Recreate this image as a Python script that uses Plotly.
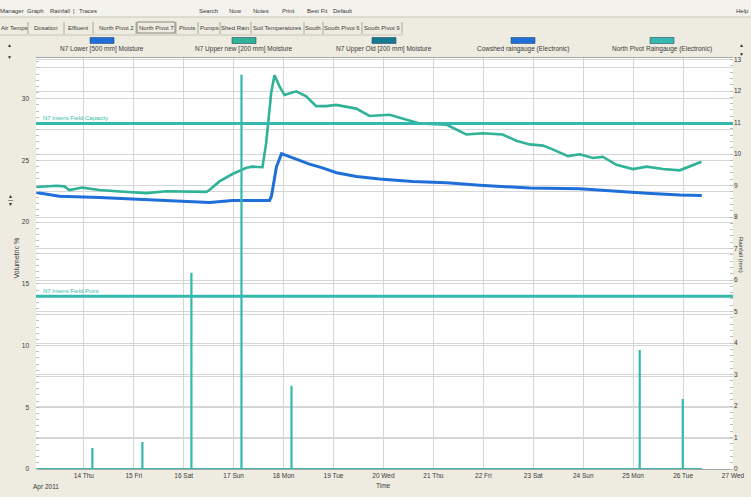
import plotly.graph_objects as go

# ---------------- data ----------------
lower_times = ["2011-04-13 01:10", "2011-04-13 12:13", "2011-04-14 07:28", "2011-04-15 07:30",
               "2011-04-16 07:33", "2011-04-16 12:22", "2011-04-16 23:25", "2011-04-17 16:15",
               "2011-04-17 17:13", "2011-04-17 18:10", "2011-04-17 20:35", "2011-04-17 23:00",
               "2011-04-18 06:13", "2011-04-18 12:27", "2011-04-18 18:43", "2011-04-19 01:26",
               "2011-04-19 11:03", "2011-04-19 22:08", "2011-04-20 14:00", "2011-04-21 06:21",
               "2011-04-21 22:13", "2011-04-22 22:16", "2011-04-23 22:19", "2011-04-24 14:11",
               "2011-04-25 06:33", "2011-04-25 22:25", "2011-04-26 09:00"]
lower_vals = [22.4, 22.1, 22.0, 21.8, 21.65, 21.6, 21.75, 21.75, 21.75, 22.1, 24.5, 25.55,
              25.06, 24.7, 24.4, 24.0, 23.7, 23.5, 23.3, 23.2, 23.0, 22.76, 22.7, 22.5, 22.35,
              22.2, 22.15]

upper_times = ["2011-04-13 01:10", "2011-04-13 05:00", "2011-04-13 10:47", "2011-04-13 14:37",
               "2011-04-13 17:01", "2011-04-13 23:17", "2011-04-14 07:28", "2011-04-14 15:38",
               "2011-04-15 06:04", "2011-04-15 15:41", "2011-04-16 01:18", "2011-04-16 10:55",
               "2011-04-16 12:22", "2011-04-16 17:10", "2011-04-16 23:25", "2011-04-17 06:10",
               "2011-04-17 09:03", "2011-04-17 13:51", "2011-04-17 15:38", "2011-04-17 18:03",
               "2011-04-17 19:38", "2011-04-17 22:02", "2011-04-18 00:26", "2011-04-18 06:04",
               "2011-04-18 10:52", "2011-04-18 15:40", "2011-04-18 20:29", "2011-04-19 01:18",
               "2011-04-19 10:55", "2011-04-19 17:19", "2011-04-20 02:56", "2011-04-20 09:20",
               "2011-04-20 17:21", "2011-04-21 06:13", "2011-04-21 15:49", "2011-04-21 23:40",
               "2011-04-22 09:17", "2011-04-22 15:52", "2011-04-22 22:16", "2011-04-23 04:40",
               "2011-04-23 09:20", "2011-04-23 16:41", "2011-04-23 22:19", "2011-04-24 04:42",
               "2011-04-24 09:23", "2011-04-24 15:58", "2011-04-24 23:57", "2011-04-25 06:24",
               "2011-04-25 14:23", "2011-04-25 22:25", "2011-04-26 03:13", "2011-04-26 08:51"]
upper_vals = [22.85, 22.9, 22.95, 22.9, 22.6, 22.8, 22.6, 22.5, 22.35, 22.5, 22.5, 22.45,
              22.6, 23.3, 23.9, 24.4, 24.5, 24.45, 26.4, 30.5, 31.9, 31.0, 30.3, 30.6, 30.2,
              29.4, 29.4, 29.5, 29.2, 28.6, 28.7, 28.4, 28.0, 27.9, 27.1, 27.2, 27.1, 26.6,
              26.3, 26.2, 25.9, 25.35, 25.5, 25.2, 25.3, 24.65, 24.3, 24.5, 24.3, 24.2, 24.5,
              24.9]

rain_times = ["2011-04-14 04:05", "2011-04-15 04:08", "2011-04-16 03:42", "2011-04-17 03:45",
              "2011-04-18 03:48", "2011-04-25 03:10", "2011-04-25 23:51"]
rain_mm = [0.67, 0.86, 6.23, 12.52, 2.64, 3.78, 2.22]
rain_start = "2011-04-13 01:10"
rain_end = "2011-04-26 09:00"

threshold_names = ["N7 Intens Field Capacity", "N7 Intens Field Point"]
threshold_vals = [28, 14]

day_ticks = ["2011-04-%02d" % d for d in range(14, 28)]
day_labels = ["14 Thu", "15 Fri", "16 Sat", "17 Sun", "18 Mon", "19 Tue", "20 Wed",
              "21 Thu", "22 Fri", "23 Sat", "24 Sun", "25 Mon", "26 Tue", "27 Wed"]

left_ticks = [0, 2.5, 5, 7.5, 10, 12.5, 15, 17.5, 20, 22.5, 25, 27.5, 30, 32.5]
left_labels = ["0", "", "5", "", "10", "", "15", "", "20", "", "25", "", "30", ""]
right_ticks = list(range(0, 14))

legend_names = ["N7 Lower [500 mm] Moisture", "N7 Upper new [200 mm] Moisture",
                "N7 Upper Old [200 mm] Moisture", "Cowshed raingauge (Electronic)",
                "North Pivot Raingauge (Electronic)"]

menu_items = ["Manager", "Graph", "Rainfall", "|", "Traces", "Search", "Now", "Notes",
              "Print", "Best Fit", "Default", "Help"]
tab_items = ["Air Temps", "Dosation", "Effluent", "North Pivot 2", "North Pivot 7", "Pivots",
             "Pumps", "Shed Rain", "Soil Temperatures", "South", "South Pivot 6", "South Pivot 9"]

# ---------------- styles ----------------
BLUE = "#1f6fd8"
TEAL = "#2fb296"
CYAN = "#35b9ae"
DTEAL = "#17798f"
GRID = "#d6d6d6"
TXT = "#3a3a3a"
BG = "#eeebe0"
FONT = "Liberation Sans"

W, H = 751, 504
L, R, T, B = 36, 18, 58, 35
PW, PH = W - L - R, H - T - B


def px(x):
    return (x - L) / PW


def py(y):
    return (H - B - y) / PH


fig = go.Figure()

# rain gauge (spikes with zero baseline) built from the rain arrays
rx, ry = [rain_start], [0]
for t, v in zip(rain_times, rain_mm):
    rx += [t, t, t]
    ry += [0, v, 0]
rx.append(rain_end)
ry.append(0)
fig.add_trace(go.Scatter(x=rx, y=ry, yaxis="y2", mode="lines",
                         line=dict(color=CYAN, width=2.2), name=legend_names[4],
                         showlegend=False, hoverinfo="skip"))

fig.add_trace(go.Scatter(x=upper_times, y=upper_vals, mode="lines",
                         line=dict(color=TEAL, width=2.6), name=legend_names[1],
                         showlegend=False))
fig.add_trace(go.Scatter(x=lower_times, y=lower_vals, mode="lines",
                         line=dict(color=BLUE, width=3), name=legend_names[0],
                         showlegend=False))

shapes = []
annotations = []

# threshold lines
for name, val in zip(threshold_names, threshold_vals):
    shapes.append(dict(type="line", xref="paper", x0=0, x1=1, yref="y", y0=val, y1=val,
                       line=dict(color=CYAN, width=3), layer="above"))
    annotations.append(dict(xref="paper", yref="y", x=px(41), y=val, yshift=0,
                            text=name, showarrow=False, xanchor="left", yanchor="bottom",
                            font=dict(family=FONT, size=6, color=CYAN)))

# custom legend (swatch above text)
leg_x = [102, 244, 384, 523, 662]
sw_col = [BLUE, TEAL, DTEAL, BLUE, CYAN]
for name, cx, col in zip(legend_names, leg_x, sw_col):
    shapes.append(dict(type="rect", xref="paper", yref="paper",
                       x0=px(cx - 12), x1=px(cx + 12), y0=py(43.5), y1=py(37.5),
                       fillcolor=col, line=dict(color="#2a4a70", width=0.6), layer="above"))
    annotations.append(dict(xref="paper", yref="paper", x=px(cx), y=py(49.5), text=name,
                            showarrow=False, xanchor="center", yanchor="middle",
                            font=dict(family=FONT, size=6.5, color=TXT)))

# menu bar
shapes.append(dict(type="rect", xref="paper", yref="paper", x0=px(0), x1=px(W),
                   y0=py(17), y1=py(0), fillcolor="#f3f2ed", line=dict(width=0), layer="below"))
shapes.append(dict(type="line", xref="paper", yref="paper", x0=px(0), x1=px(W),
                   y0=py(17), y1=py(17), line=dict(color="#c9c6b8", width=1)))
menu_x = [12, 35, 60, 74, 88, 208, 235, 261, 288, 317, 342, 742]
for m, mx in zip(menu_items, menu_x):
    annotations.append(dict(xref="paper", yref="paper", x=px(mx), y=py(11), text=m,
                            showarrow=False, xanchor="center", yanchor="middle",
                            font=dict(family=FONT, size=6, color=TXT)))

# tab row
tab_x = [14, 46, 78, 116, 156, 187, 209, 235, 277, 313, 342, 382]
tab_edges = [28, 64, 93, 136, 176, 198, 220, 251, 304, 323, 362, 402]
for tb, tx in zip(tab_items, tab_x):
    annotations.append(dict(xref="paper", yref="paper", x=px(tx), y=py(28), text=tb,
                            showarrow=False, xanchor="center", yanchor="middle",
                            font=dict(family=FONT, size=6, color=TXT)))
for e in tab_edges:
    shapes.append(dict(type="line", xref="paper", yref="paper", x0=px(e), x1=px(e),
                       y0=py(34), y1=py(22), line=dict(color="#9a988c", width=0.8)))
shapes.append(dict(type="rect", xref="paper", yref="paper", x0=px(137), x1=px(175),
                   y0=py(33), y1=py(22), line=dict(color="#6f6d63", width=0.8)))
shapes.append(dict(type="line", xref="paper", yref="paper", x0=px(0), x1=px(403),
                   y0=py(35), y1=py(35), line=dict(color="#c9c6b8", width=1)))

# bottom status strip
shapes.append(dict(type="rect", xref="paper", yref="paper", x0=px(0), x1=px(W),
                   y0=py(H), y1=py(497), fillcolor="#ffffff", line=dict(width=0)))

# small side controls
for txt, x, y in [("▲", 5, 40), ("▼", 5, 52), ("▲", 746, 40), ("▼", 746, 49)]:
    annotations.append(dict(xref="paper", yref="paper", x=px(x), y=py(y), text=txt,
                            showarrow=False, font=dict(family=FONT, size=5, color="#333")))
annotations.append(dict(xref="paper", yref="paper", x=px(5), y=py(200), text="◂ | ▸",
                        textangle=-90, showarrow=False,
                        font=dict(family=FONT, size=6, color="#333")))

# axis titles and date label
annotations.append(dict(xref="paper", yref="paper", x=px(10), y=py(258), text="Volumetric %",
                        textangle=-90, showarrow=False,
                        font=dict(family=FONT, size=7, color=TXT)))
annotations.append(dict(xref="paper", yref="paper", x=px(746), y=py(255), text="Rainfall (mm)",
                        textangle=90, showarrow=False,
                        font=dict(family=FONT, size=6, color=TXT)))
annotations.append(dict(xref="paper", yref="paper", x=px(383), y=py(491), text="Time",
                        showarrow=False, font=dict(family=FONT, size=6.5, color=TXT)))
annotations.append(dict(xref="paper", yref="paper", x=px(31), y=py(493), text="Apr 2011",
                        showarrow=False, font=dict(family=FONT, size=6.5, color=TXT)))

fig.update_layout(
    width=W, height=H,
    margin=dict(l=L, r=R, t=T, b=B, pad=0, autoexpand=False),
    paper_bgcolor=BG, plot_bgcolor="#ffffff",
    showlegend=False,
    font=dict(family=FONT, size=7, color=TXT),
    xaxis=dict(type="date", range=["2011-04-13 01:00", "2011-04-27 00:00"],
               tickmode="array", tickvals=day_ticks, ticktext=day_labels,
               showgrid=True, gridcolor=GRID, gridwidth=1, ticks="",
               tickfont=dict(size=6.5, color=TXT), zeroline=False, automargin=False,
               showline=True, linecolor="#a8a8a8", mirror=True),
    yaxis=dict(range=[0, 33.3], tickmode="array", tickvals=left_ticks, ticktext=left_labels,
               showgrid=True, gridcolor=GRID, gridwidth=1, ticks="", zeroline=False,
               automargin=False, tickfont=dict(size=6.5, color=TXT), ticklabelstandoff=6,
               minor=dict(ticks="inside", ticklen=3, dtick=0.5, tickcolor="#bdbdbd",
                          showgrid=False)),
    yaxis2=dict(range=[0, 13.05], overlaying="y", side="right", tickmode="array",
                tickvals=right_ticks, showgrid=True, gridcolor=GRID, gridwidth=1,
                ticks="", zeroline=False, automargin=False, tickfont=dict(size=6.5, color=TXT),
                minor=dict(ticks="inside", ticklen=3, dtick=0.2, tickcolor="#bdbdbd",
                           showgrid=False)),
    shapes=shapes,
    annotations=annotations,
)

fig.write_html("out.html", config={"displayModeBar": False},
               post_script="document.body.style.margin='0';document.body.style.padding='0';"
                           "document.body.style.overflow='hidden';")
